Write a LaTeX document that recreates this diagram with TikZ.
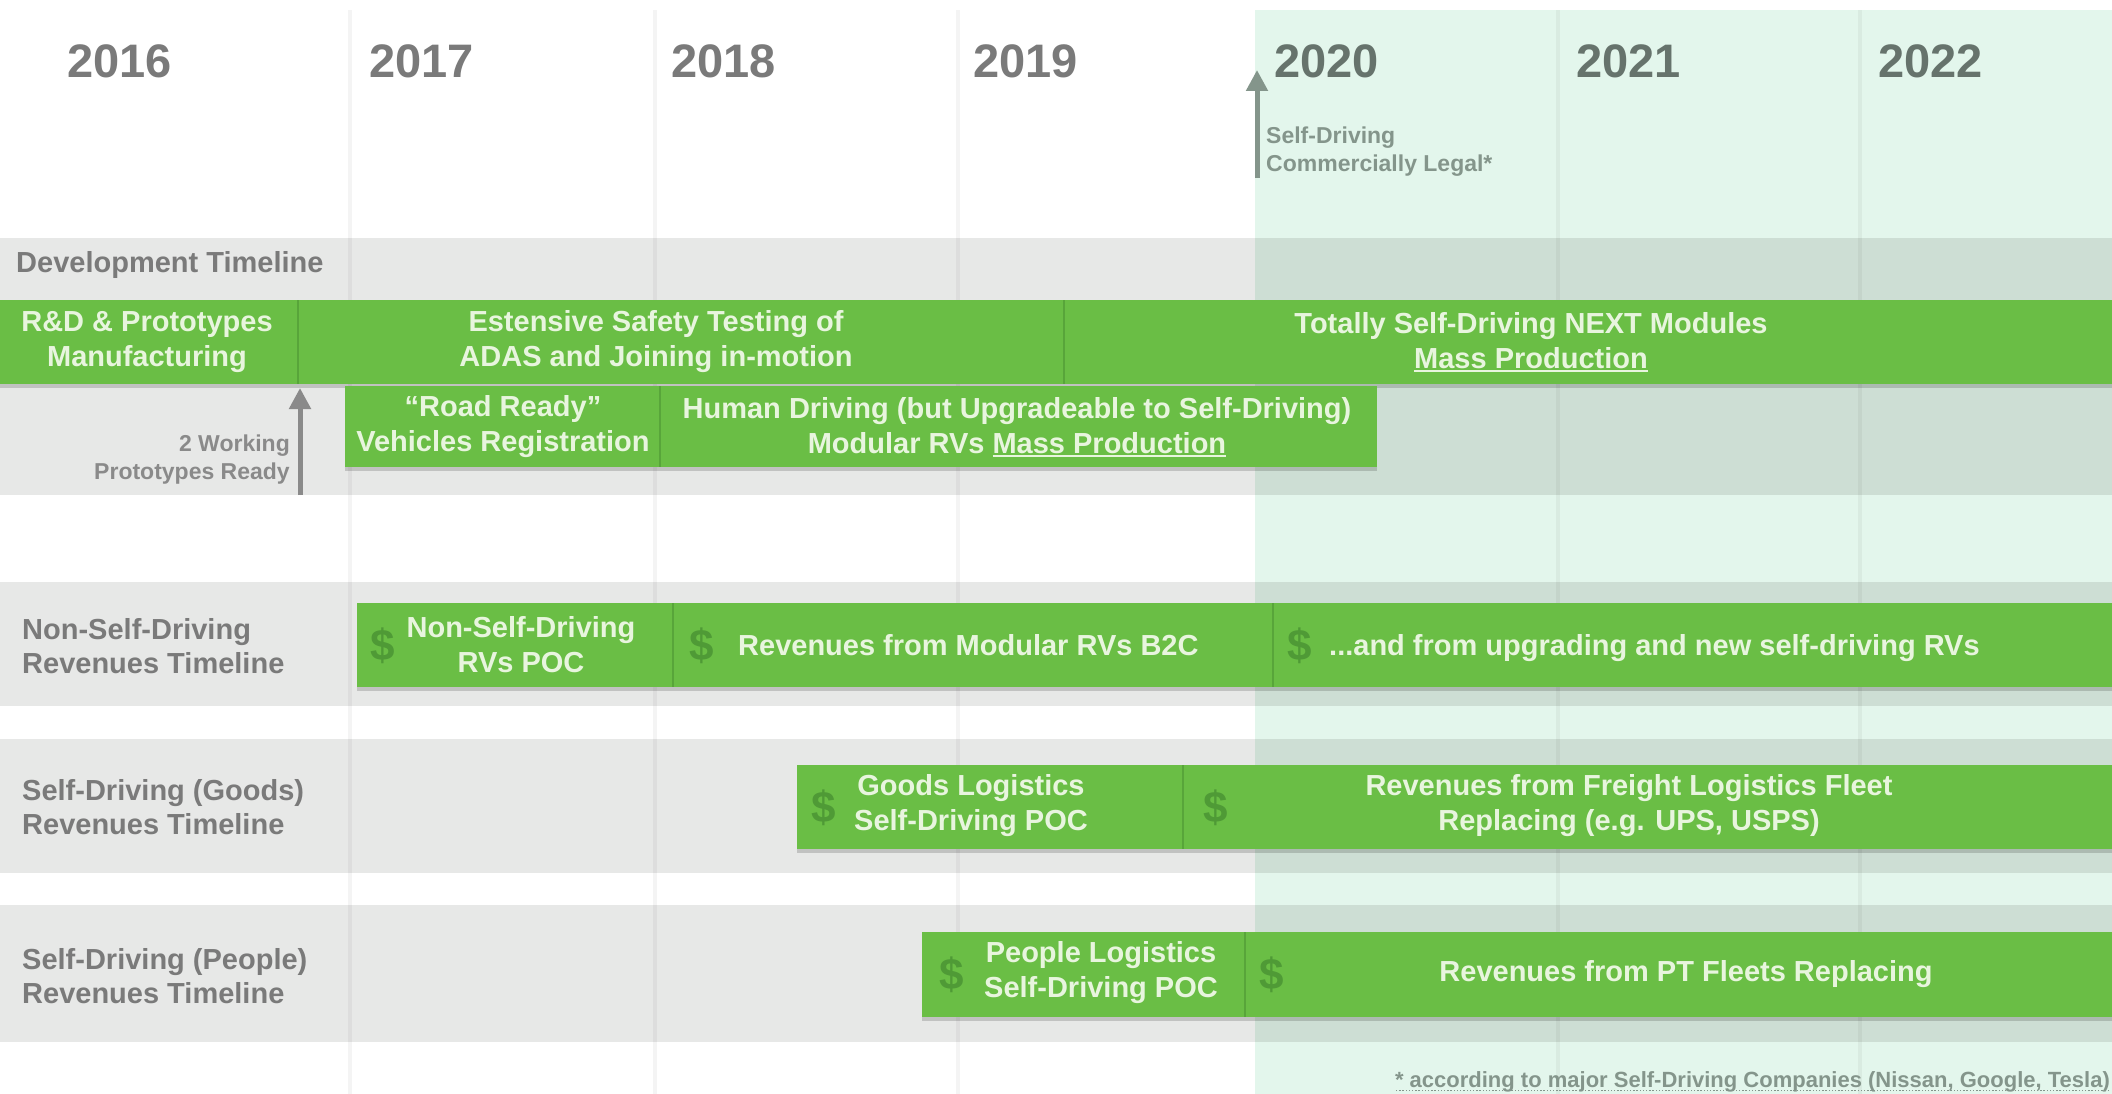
\documentclass[tikz,border=0pt]{standalone}
\usepackage{fontspec}
\setmainfont{Liberation Sans}
\usetikzlibrary{arrows.meta,shadows}
\definecolor{bandgray}{HTML}{E7E8E7}
\definecolor{mint}{HTML}{E3F6EC}
\definecolor{mintgray}{HTML}{CDDED4}
\definecolor{barg}{HTML}{6ABE45}
\definecolor{bardark}{HTML}{58A53A}
\definecolor{dollar}{HTML}{4F9A36}
\definecolor{bartext}{HTML}{E8F5DE}
\definecolor{labgray}{HTML}{7A7A7A}
\definecolor{labmint}{HTML}{66736C}
\definecolor{annogray}{HTML}{8A8A8A}
\definecolor{annomint}{HTML}{84958B}
\newcommand\ulin[1]{\setbox0\hbox{#1}\rlap{\rule[-4pt]{\wd0}{1.8pt}}\box0}
\newcommand\dotul[1]{\setbox0\hbox{#1}\rlap{\lower4pt\hbox to \wd0{\xleaders\hbox to 3.2pt{\hss\rule{1.4pt}{1.4pt}\hss}\hfill}}\box0}
\begin{document}
\begin{tikzpicture}[x=1pt,y=-1pt,
  bar/.style={fill=barg, draw=none, inner sep=0pt, outer sep=0pt, anchor=north west,
    drop shadow={shadow xshift=0pt, shadow yshift=-4pt, opacity=0.16, fill=black}},
  bartxt/.style={text=bartext, align=center, inner sep=0pt, font=\bfseries\fontsize{29}{35}\selectfont},
  dollarsign/.style={text=dollar, inner sep=0pt, font=\bfseries\fontsize{44}{44}\selectfont},
  yearlab/.style={anchor=west, inner sep=0pt, font=\bfseries\fontsize{47}{56}\selectfont},
  rowlab/.style={anchor=west, align=left, inner sep=0pt, text=labgray, font=\bfseries\fontsize{29}{34}\selectfont},
  anno/.style={inner sep=0pt, font=\bfseries\fontsize{23}{28}\selectfont},
  arrowline/.style={line width=5pt, -{Triangle[width=21pt,length=21pt]}},
  vgrid/.style={line width=4pt, draw=black, draw opacity=0.045},
  seam/.style={draw=bardark, line width=2.5pt}
]
% canvas
\useasboundingbox (0,0) rectangle (2112,1094);
\fill[white] (0,0) rectangle (2112,1094);
\fill[mint] (1255,10) rectangle (2112,1094);
% gray bands
\foreach \ya/\yb in {238/495, 582/706, 739/873, 905/1042}{
  \fill[bandgray] (0,\ya) rectangle (1255,\yb);
  \fill[mintgray] (1255,\ya) rectangle (2112,\yb);
}
% vertical year separators
\foreach \xx in {350,655,958,1558,1860}{
  \draw[vgrid] (\xx,10) -- (\xx,1094);
}
% years
\node[yearlab, text=labgray] (y2016) at (67,61) {2016};
\node[yearlab, text=labgray] (y2017) at (369,61) {2017};
\node[yearlab, text=labgray] (y2018) at (671,61) {2018};
\node[yearlab, text=labgray] (y2019) at (973,61) {2019};
\node[yearlab, text=labmint] (y2020) at (1274,61) {2020};
\node[yearlab, text=labmint] (y2021) at (1576,61) {2021};
\node[yearlab, text=labmint] (y2022) at (1878,61) {2022};
% legal arrow
\coordinate (legalA) at (1257,178);
\coordinate (legalB) at (1257,70);
\draw[arrowline, draw=annomint, fill=annomint] (legalA) -- (legalB);
\node[anno, anchor=west, align=left, text=annomint] (legal) at (1266,152) {Self-Driving\\Commercially Legal*};
% row labels
\node[rowlab, anchor=west] (devlab) at (16,265) {Development Timeline};
\node[rowlab] (nsdlab) at (22,646) {Non-Self-Driving\\Revenues Timeline};
\node[rowlab] (goodslab) at (22,807) {Self-Driving (Goods)\\Revenues Timeline};
\node[rowlab] (peoplelab) at (22,976) {Self-Driving (People)\\Revenues Timeline};
% development row 1
\node[bar, minimum width=298pt, minimum height=84pt] (rd) at (0,300) {};
\node[bar, minimum width=766pt, minimum height=84pt] (est) at (298,300) {};
\node[bar, minimum width=1048pt, minimum height=84pt] (tsd) at (1064,300) {};
\draw[seam] (est.north west) -- (est.south west);
\draw[seam] (tsd.north west) -- (tsd.south west);
\node[bartxt] (rdt) at (147,342) {R\&D \& Prototypes\\Manufacturing};
\node[bartxt] (estt) at (656,342) {Estensive Safety Testing of\\ADAS and Joining in-motion};
\node[bartxt] (tsdt) at (1531,342) {Totally Self-Driving NEXT Modules\\\ulin{Mass Production}};
% development row 2
\node[bar, minimum width=315pt, minimum height=81pt] (rr) at (345,386) {};
\node[bar, minimum width=717pt, minimum height=81pt] (hd) at (660,386) {};
\draw[seam] (hd.north west) -- (hd.south west);
\node[bartxt] (rrt) at (503,427) {“Road Ready”\\Vehicles Registration};
\node[bartxt] (hdt) at (1017,427) {Human Driving (but Upgradeable to Self-Driving)\\Modular RVs \ulin{Mass Production}};
% prototypes arrow
\coordinate (protoA) at (300,495);
\coordinate (protoB) at (300,388);
\draw[arrowline, draw=annogray, fill=annogray] (protoA) -- (protoB);
\node[anno, anchor=east, align=right, text=annogray] (proto) at (290,460) {2 Working\\Prototypes Ready};
% non-self-driving revenues
\node[bar, minimum width=316pt, minimum height=84pt] (nsd) at (357,603) {};
\node[bar, minimum width=600pt, minimum height=84pt] (mod) at (673,603) {};
\node[bar, minimum width=839pt, minimum height=84pt] (upg) at (1273,603) {};
\draw[seam] (mod.north west) -- (mod.south west);
\draw[seam] (upg.north west) -- (upg.south west);
\node[dollarsign] (nsdd) at (383,646) {\$};
\node[bartxt] (nsdt) at (521,645) {Non-Self-Driving\\RVs POC};
\node[dollarsign] (modd) at (702,646) {\$};
\node[bartxt, anchor=west] (modt) at (738,645) {Revenues from Modular RVs B2C};
\node[dollarsign] (upgd) at (1300,646) {\$};
\node[bartxt, anchor=west] (upgt) at (1329,648) {...and from upgrading and new self-driving RVs};
% goods
\node[bar, minimum width=386pt, minimum height=84pt] (gl) at (797,765) {};
\node[bar, minimum width=929pt, minimum height=84pt] (fr) at (1183,765) {};
\draw[seam] (fr.north west) -- (fr.south west);
\node[dollarsign] (gld) at (824,808) {\$};
\node[bartxt] (glt) at (971,806) {Goods Logistics\\Self-Driving POC};
\node[dollarsign] (frd) at (1216,808) {\$};
\node[bartxt] (frt) at (1629,806) {Revenues from Freight Logistics Fleet\\Replacing (e.g. UPS, USPS)};
% people
\node[bar, minimum width=323pt, minimum height=85pt] (pl) at (922,932) {};
\node[bar, minimum width=867pt, minimum height=85pt] (pt) at (1245,932) {};
\draw[seam] (pt.north west) -- (pt.south west);
\node[dollarsign] (pld) at (952,975) {\$};
\node[bartxt] (plt) at (1101,973) {People Logistics\\Self-Driving POC};
\node[dollarsign] (ptd) at (1272,975) {\$};
\node[bartxt] (ptt) at (1686,974) {Revenues from PT Fleets Replacing};
% footnote
\node[anno, anchor=base east, text=annomint, font=\bfseries\fontsize{22}{26}\selectfont] (fn) at (2110,1087) {\dotul{* according to major Self-Driving Companies (Nissan, Google, Tesla)}};
\end{tikzpicture}
\end{document}
